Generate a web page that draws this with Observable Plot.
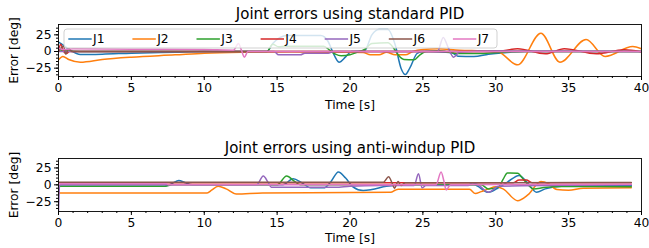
<!DOCTYPE html>
<html><head><meta charset="utf-8">
<script src="https://cdn.jsdelivr.net/npm/d3@7"></script>
<script src="https://cdn.jsdelivr.net/npm/@observablehq/plot@0.6"></script>
<style>
body{margin:0;background:white;}
#wrap{position:relative;width:649px;height:248px;overflow:hidden;}
#wrap svg{position:absolute;left:0;}
#wrap svg g[aria-label="x-axis tick label"], #wrap svg g[aria-label="y-axis tick label"]{font-size:12.3px;}
</style></head><body><div id="wrap"></div>
<script>
const joints = ["J1","J2","J3","J4","J5","J6","J7"];
const colors = ["#1f77b4","#ff7f0e","#2ca02c","#d62728","#9467bd","#8c564b","#e377c2"];
const xTicks = [0,5,10,15,20,25,30,35,40];
const xMinor = d3.range(0,41,1);
const yTicks = [-25,0,25];
const yMinor = d3.range(-35,40,5);
const titles = ["Joint errors using standard PID","Joint errors using anti-windup PID"];

// standard PID: [time s, error deg]
const stdJ1 = [[0,14],[0.3,10],[0.8,2],[1.5,-4.5],[3,-4],[5,-2.5],[8,-1],[10,0],[14.3,0],[14.7,12],[15.2,21],[15.7,24],[18,24],[18.5,15],[18.8,0],[19.25,-16],[19.7,-8],[20.1,0],[21,1],[21.5,25],[22,33],[22.6,33],[23.1,10],[23.5,-25],[23.8,-34.5],[24.1,-25],[24.6,-3],[25,0],[26.5,-1],[27,-2],[27.4,-7],[28.5,-7.5],[29.5,-4],[31,-1],[32,0],[40,0]];
const stdJ2 = [[0,-12.5],[0.3,-7.5],[0.7,-12],[1.5,-16],[3,-12],[5,-8.5],[8,-5],[10,-2.5],[13,-1],[16,-0.5],[18.5,-1],[19.7,-1],[20.9,-1.5],[21.4,-5],[22,-5],[22.5,-1],[23.1,-5],[23.8,-5],[24.3,0],[25,3],[26,4],[27.5,2],[29,1],[30.1,0],[31.5,-20],[33.1,27.5],[34.4,-16],[36.2,18],[37.5,-7.5],[39.4,7.5],[40,4]];
const stdJ3 = [[0,3],[0.5,1],[1.5,0],[14.3,0],[14.7,11],[15.1,7],[15.6,8],[18.2,8],[18.6,2],[19,-4],[19.4,-6.5],[20,-5],[20.5,-1],[21,3],[21.5,12],[22.6,13],[23,5],[23.3,-5],[23.7,-12],[24.4,-12.5],[24.8,-5],[25.2,0],[26,1],[26.8,-1],[27.3,-3],[29,-3],[30.5,-1],[32,0],[40,0]];
const stdJ4 = [[0,0],[0.15,11],[0.35,0],[0.55,-3],[0.75,0],[30,0],[31.5,4],[33.4,-3.5],[34.7,4],[36.9,-3.5],[38.8,2.5],[40,-0.5]];
const stdJ5 = [[0,0],[14.8,0],[15.1,-5],[16.6,-5],[16.9,-2.5],[18.5,-2.5],[18.9,0],[26,0],[26.4,21],[26.75,5],[27.1,-8.5],[27.5,-1],[30,1],[40,0]];
const stdJ6 = [[0,0],[0.35,8],[0.5,-4],[0.7,5],[0.9,0],[40,0]];
const stdJ7 = [[0,5],[0.3,3],[1,4],[5,3.5],[10,3],[12,2],[12.35,12],[12.55,2],[12.75,-8.5],[13,0],[40,0]];

// anti-windup PID: [time s, error deg]
const awJ1 = [[0,-2],[7.3,-2],[7.8,2],[8.25,6.5],[8.7,3],[9.2,0],[15.4,0],[16.1,9],[16.7,3],[17.3,-4.5],[18.2,-4.5],[18.7,5],[19.2,19],[19.7,10],[20.2,-3],[20.9,-8.5],[21.5,-7],[22.5,-2],[24,0],[28.5,0],[29.5,-11],[30.2,-4],[30.8,4],[31.6,14],[32.1,5],[32.8,-11],[33.4,-6],[34.5,-2],[39.3,-1]];
const awJ2 = [[0,-12],[10.2,-12],[10.5,-8],[10.95,-2],[11.5,-6],[12.2,-13.5],[14,-12],[20,-11.5],[22.8,-11],[23.1,-8],[23.3,-6.5],[25,-6.5],[28.2,-6.5],[28.6,-13],[29,-10],[29.5,-6],[30,-3],[30.5,-6],[31.5,-23.5],[32.2,-15],[33.1,5],[33.6,2],[34.2,-7],[35,-8],[36,-5],[39.3,-4.5]];
const awJ3 = [[0,-2],[7.3,-2],[7.8,0],[15,0],[15.65,13],[16.2,5],[16.6,0],[29,0],[29.5,-6],[30.2,-3],[30.5,8],[30.8,17.5],[31.5,17],[31.9,8],[32.6,-6],[33.3,-4],[34.5,-2.5],[39.3,-3]];
const awJ4 = [[0,3],[31.2,3],[31.6,7],[32.1,7],[32.5,3],[39.3,3]];
const awJ5 = [[0,-38],[0.08,0],[13.6,0],[14.05,13],[14.4,3],[14.6,-3.5],[19,-3.5],[20,-2],[22,-1],[24.4,-1],[24.7,16.5],[24.95,-4.5],[25.2,-1],[28.1,-1],[28.4,3],[28.8,0],[29.5,-11],[30.2,-2],[39.3,0]];
const awJ6 = [[0,4],[22.3,4],[22.65,12],[22.9,2],[23.05,-5],[23.3,5],[23.5,-1],[23.8,3],[39.3,3.5]];
const awJ7 = [[0,1.5],[7.4,1.5],[7.6,0],[25.9,0],[26.25,19],[26.45,5],[26.6,-7.5],[26.9,0],[39.3,1]];

const rowsOf = arrs => arrs.flatMap((a, i) => a.map(([t, v]) => ({t, v, j: joints[i]})));

function chart(rows, title, yDomain, height, mb, titleDy, labelDy) {
  return Plot.plot({
    width: 649, height, marginLeft: 58, marginRight: 8, marginTop: 24, marginBottom: mb,
    style: {fontFamily: "DejaVu Sans", fontSize: "12.3px", background: "white", overflow: "visible"},
    x: {domain: [0, 40]},
    y: {domain: yDomain},
    color: {domain: joints, range: colors},
    marks: [
      Plot.line(rows, {x: "t", y: "v", stroke: "j", strokeWidth: 1.5, curve: "monotone-x", clip: true}),
      Plot.frame({stroke: "black", strokeWidth: 0.9}),
      Plot.axisX({ticks: xTicks, tickSize: 4, tickPadding: 3, label: null}),
      Plot.axisX({ticks: xMinor, tickSize: 2, text: null, label: null}),
      Plot.axisY({ticks: yTicks, tickSize: 4, tickPadding: 3, label: null}),
      Plot.axisY({ticks: yMinor, tickSize: 2, text: null, label: null}),
      Plot.text([title], {frameAnchor: "top", lineAnchor: "middle", dy: titleDy, text: d => d, fontSize: 15}),
      Plot.text(["Time [s]"], {frameAnchor: "bottom", lineAnchor: "middle", dy: labelDy, text: d => d, fontSize: 12.3}),
      Plot.text(["Error [deg]"], {frameAnchor: "left", textAnchor: "middle", lineAnchor: "middle", dx: -44, rotate: -90, text: d => d, fontSize: 12.3})
    ]
  });
}

const wrap = document.getElementById("wrap");
const top1 = chart(rowsOf([stdJ1,stdJ2,stdJ3,stdJ4,stdJ5,stdJ6,stdJ7]), titles[0], [-37.5, 40.5], 112, 36, -10.5, 28.5);
top1.style.top = "0px";
wrap.appendChild(top1);
const bot = chart(rowsOf([awJ1,awJ2,awJ3,awJ4,awJ5,awJ6,awJ7]), titles[1], [-39.5, 39], 114, 37, -10.5, 27);
bot.style.top = "134px";
wrap.appendChild(bot);

// legend inside the top axes
const svg = d3.select(top1);
const lg = svg.append("g").attr("font-family", "DejaVu Sans").attr("font-size", 12.3);
lg.append("rect").attr("x", 64).attr("y", 29).attr("width", 433).attr("height", 19).attr("rx", 3)
  .attr("fill", "white").attr("fill-opacity", 0.8).attr("stroke", "#cccccc").attr("stroke-width", 0.9);
joints.forEach((j, i) => {
  const x0 = 68.3 + 64.1 * i;
  lg.append("line").attr("x1", x0).attr("x2", x0 + 23.4).attr("y1", 39).attr("y2", 39)
    .attr("stroke", colors[i]).attr("stroke-width", 1.5);
  lg.append("text").attr("x", x0 + 30.5).attr("y", 39).attr("dy", "0.35em").attr("fill", "black").text(j);
});
</script></body></html>
